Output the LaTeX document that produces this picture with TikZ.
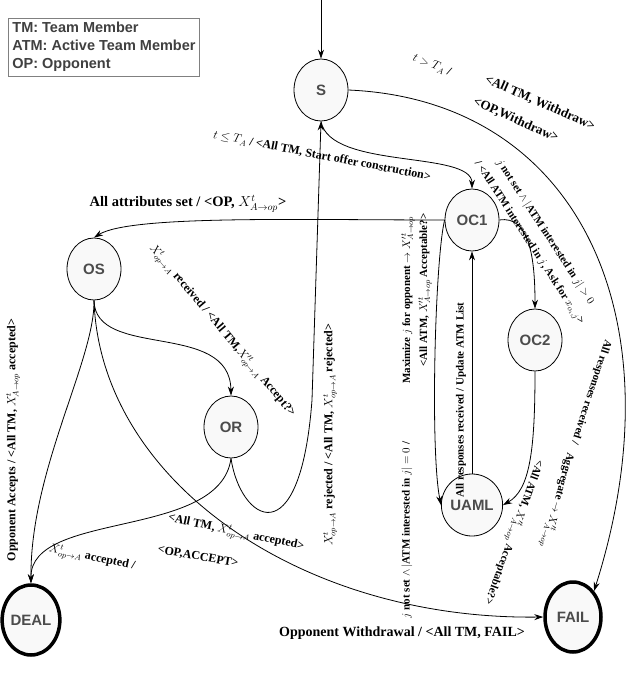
\documentclass[tikz,border=0pt]{standalone}
\usepackage{fontspec}
\setmainfont{Liberation Serif}
\newfontfamily\nodefont{Liberation Sans}
\usetikzlibrary{arrows.meta,shapes.geometric}
\begin{document}
\begin{tikzpicture}[x=1pt,y=-1pt,
 st/.style={ellipse,draw,thick,fill=gray!5,minimum width=54pt,minimum height=62pt,inner sep=0pt,font=\nodefont\bfseries\fontsize{15}{17}\selectfont,text=black!70},
 fin/.style={st,line width=3.5pt,minimum width=56pt,minimum height=70pt},
 ed/.style={thick,-{Stealth[length=9pt,width=6pt]}},
 lb/.style={font=\bfseries\fontsize{12}{14}\selectfont,inner sep=1pt},
 sl/.style={font=\bfseries\fontsize{11}{12}\selectfont,inner sep=1pt}]
\useasboundingbox (0,0) rectangle (640,683);
\node[draw=gray,thick,align=left,font=\nodefont\bfseries\fontsize{14.5}{18}\selectfont,text=black!75,anchor=north west,inner sep=4pt] (leg) at (8,18) {TM: Team Member\\ATM: Active Team Member\\OP: Opponent};
\node[st] (S) at (321,90) {S};
\node[st] (OC1) at (472,220) {OC1};
\node[st] (OS) at (94,269) {OS};
\node[st] (OC2) at (535,340) {OC2};
\node[st] (OR) at (231,427) {OR};
\node[st] (UAML) at (472,505) {UAML};
\node[fin] (DEAL) at (31,620) {DEAL};
\node[fin] (FAIL) at (573,617) {FAIL};
\coordinate (in) at (321,0);
\draw[ed] (in) -- (S);
\draw[ed] (S.east) .. controls (580,100) and (680,320) .. (FAIL.north east);
\draw[ed] (S.south) .. controls (330,170) and (472,150) .. (OC1.north);
\draw[ed] (OC1.west) .. controls (300,220) and (130,215) .. (OS.north);
\draw[ed] (OS.south) .. controls (95,360) and (30,470) .. (DEAL.north);
\draw[ed] (OS.south) .. controls (95,360) and (230,320) .. (OR.north);
\draw[ed] (OS.south) .. controls (100,480) and (300,620) .. (FAIL.west);
\draw[ed] (OR.south) .. controls (220,540) and (30,510) .. (DEAL.north);
\draw[ed] (OR.south) .. controls (240,520) and (300,560) .. (312,400) -- (S.south);
\draw[ed] (OC1.west) .. controls (435,260) and (430,450) .. (UAML.west);
\draw[ed] (UAML.north) -- (OC1.south);
\draw[ed] (OC1.east) .. controls (530,215) and (535,260) .. (OC2.north);
\draw[ed] (OC2.south) .. controls (535,450) and (530,490) .. (UAML.east);
% labels
\node[lb,rotate=-22] at (432,65) {$t>T_A$ /};
\node[lb,font=\bfseries\fontsize{13}{15}\selectfont,rotate=-24] at (540,103) {<All TM, Withdraw>};
\node[lb,font=\bfseries\fontsize{13}{15}\selectfont,rotate=-24] at (516,120) {<OP,Withdraw>};
\node[lb,rotate=-11] at (322,156) {$t\le T_A$ / <All TM, Start offer construction>};
\node[lb,font=\bfseries\fontsize{14.5}{17}\selectfont] at (188,204) {All attributes set / <OP, $X^t_{A\to op}$>};
\node[sl,rotate=-57] at (545,232) {$j$ not set $\wedge\,|$ATM interested in $j|>0$};
\node[sl,rotate=-57] at (529,243) {/ <All ATM interested in $j$, Ask for $x_{o_i,j}$>};
\node[lb,rotate=-50] at (222,331) {$X^t_{op\to A}$ received / <All TM,$X'^t_{op\to A}$ Accept?>};
\node[lb,rotate=90] at (13,440) {Opponent Accepts / <All TM, $X^t_{A\to op}$ accepted>};
\node[lb,rotate=90] at (330,435) {$X^t_{op\to A}$ rejected / <All TM, $X^t_{op\to A}$ rejected>};
\node[lb,rotate=-12] at (92,558) {$X^t_{op\to A}$ accepted /};
\node[lb,rotate=-12] at (236,533) {<All TM, $X^t_{op\to A}$ accepted>};
\node[lb,rotate=-10] at (198,557) {<OP,ACCEPT>};
\node[sl,rotate=90] at (407,530) {$j$ not set $\wedge\,|$ATM interested in $j|=0$ /};
\node[sl,rotate=90] at (408,300) {Maximize $j$ for opponent $\to X'^t_{A\to op}$};
\node[sl,rotate=90] at (425,290) {<All ATM, $X'^t_{A\to op}$ Acceptable?>};
\node[sl,rotate=90] at (461,400) {All responses received / Update ATM List};
\node[sl,rotate=-108] at (591,392) {All responses received /};
\node[sl,rotate=-105] at (557,500) {Aggregate $\to X'^t_{A\to op}$};
\node[sl,rotate=-110] at (513,532) {<All ATM, $X'^t_{A\to op}$ Acceptable?>};
\node[lb,font=\bfseries\fontsize{14}{16}\selectfont] at (402,633) {Opponent Withdrawal / <All TM, FAIL>};
\end{tikzpicture}
\end{document}
